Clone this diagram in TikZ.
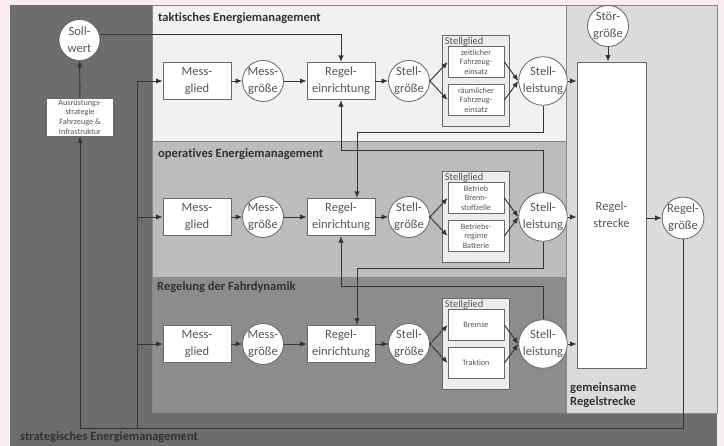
\documentclass[tikz,border=0pt]{standalone}
\usepackage{fontspec}
\setmainfont{Carlito}[Ligatures={NoCommon,NoRequired,NoContextual}]
\usetikzlibrary{calc,positioning,arrows.meta}
\definecolor{rand}{RGB}{250,237,239}
\definecolor{strat}{RGB}{109,109,109}
\definecolor{takt}{RGB}{241,241,241}
\definecolor{oper}{RGB}{188,188,188}
\definecolor{fdyn}{RGB}{140,140,140}
\definecolor{gemein}{RGB}{219,219,219}
\definecolor{glied}{RGB}{236,236,236}
\definecolor{linie}{RGB}{52,52,52}
\definecolor{rahmen}{RGB}{105,105,105}
\definecolor{schrift}{RGB}{85,85,85}
\definecolor{titel}{RGB}{50,50,50}
\newcommand{\grossschrift}{\fontsize{10.7}{14.2}\selectfont}
\newcommand{\kleinschrift}{\fontsize{7}{8.3}\selectfont}
\tikzset{
  blk/.style={
    draw=rahmen,
    line width=0.7pt,
    fill=white,
    minimum width=2.04cm,
    minimum height=1.12cm,
    inner sep=0pt,
    text=schrift,
    font=\grossschrift,
    align=center
  },
  rnd/.style={circle, draw=rahmen, line width=0.7pt, fill=white, minimum size=1.23cm,
    inner sep=0pt, text=schrift, font=\grossschrift, align=center},
  akt/.style={draw=rahmen, line width=0.7pt, fill=white, minimum width=1.68cm,
    minimum height=0.915cm, inner sep=0pt, text=schrift, font=\kleinschrift, align=center},
  frm/.style={draw=rahmen, line width=0.6pt, fill=glied, minimum width=2.01cm,
    minimum height=2.73cm, inner sep=0pt},
  lbl/.style={font=\fontsize{8.9}{10}\selectfont, text=schrift, inner sep=0pt, anchor=north west},
  ttl/.style={font=\bfseries\grossschrift, text=titel, inner sep=0pt, anchor=west},
  panel/.style={draw=rahmen!80, line width=0.5pt},
  pfeil/.style={draw=linie, line width=0.8pt, -{Latex[length=5.5pt,width=4.5pt]}},
  lin/.style={draw=linie, line width=0.8pt},
}
\newcommand{\RegelKreis}[4]{%
  \node[blk] (#1mg) at (197,#2) {Mess-\\glied};
  \node[rnd] (#1mgr) at (263,#2) {Mess-\\größe};
  \node[blk] (#1re) at (341,#2) {Regel-\\einrichtung};
  \node[rnd] (#1sg) at (409,#2) {Stell-\\größe};
  \node[frm] (#1st) at (476,#2) {};
  \node[lbl] (#1stl) at ($(#1st.north west)+(2.5,1.5)$) {Stellglied};
  \node[akt] (#1a) at ($(#1st.center)+(0,-19)$) {#3};
  \node[akt] (#1b) at ($(#1st.center)+(0,19)$) {#4};
  \node[rnd] (#1sl) at (543,#2) {Stell-\\leistung};
  \draw[pfeil] (#1mg.west -| rueck) -- (#1mg);
  \draw[pfeil] (#1mg) -- (#1mgr);
  \draw[pfeil] (#1mgr) -- (#1re);
  \draw[pfeil] (#1re) -- (#1sg);
  \foreach \z in {a,b} {
    \draw[pfeil] (#1sg.east) -- (#1\z.west);
    \draw[pfeil] (#1\z.east) -- (#1sl.west);
  }
  \draw[pfeil] (#1sl) -- (#1sl -| rs.west);
}

\begin{document}
\begin{tikzpicture}[x=0.03cm,y=-0.03cm]
  \useasboundingbox (0,0) rectangle (724,446);
  \fill[rand] (0,0) rectangle (724,446);
  \fill[strat] (10,5) rectangle (717,446);
  \draw[panel, fill=takt] (152,5) rectangle (566,141);
  \draw[panel, fill=oper] (152,141) rectangle (566,277);
  \draw[panel, fill=fdyn] (152,277) rectangle (566,412);
  \draw[panel, fill=gemein] (566,5) rectangle (717,413);

  \node[ttl] (tTit) at (158,18) {taktisches Energiemanagement};
  \node[ttl] (oTit) at (158,154) {operatives Energiemanagement};
  \node[ttl] (rTit) at (157,287) {Regelung der Fahrdynamik};
  \node[ttl] (sTit) at (20,437) {strategisches Energiemanagement};
  \node[ttl, align=left, font=\bfseries\fontsize{10.7}{12.5}\selectfont] (gTit) at (570,395) {gemeinsame\\Regelstrecke};

  \coordinate (rueck) at (137,428);
  \node[blk, minimum width=2.07cm, minimum height=9.18cm] (rs) at (611.5,215) {Regel-\\strecke};
  \node[rnd] (stoer) at (608,26) {Stör-\\größe};
  \node[rnd] (rg) at (683,218) {Regel-\\größe};
  \node[rnd] (sw) at (79.5,40) {Soll-\\wert};
  \node[akt, minimum width=2.01cm, minimum height=1.14cm] (aus) at (80,117)
    {Ausrüstungs-\\strategie\\Fahrzeuge \&\\Infrastruktur};

  \RegelKreis{t}{81}{zeitlicher\\Fahrzeug-\\einsatz}{räumlicher\\Fahrzeug-\\einsatz}
  \RegelKreis{o}{217}{Betrieb\\Brenn-\\stoffzelle}{Betriebs-\\regime\\Batterie}
  \RegelKreis{r}{344}{Bremse}{Traktion}

  \coordinate (tk) at (357,132);
  \coordinate (ot) at (341,150);
  \coordinate (ok) at (357,268);
  \coordinate (rt) at (341,286);
  \draw[pfeil] (tsl) |- (tk) -- (tk |- ore.north);
  \draw[pfeil] (osl) |- (ot) -- (tre);
  \draw[pfeil] (osl) |- (ok) -- (ok |- rre.north);
  \draw[pfeil] (rsl) |- (rt) -- (ore);

  \draw[pfeil] (sw.14) -- (sw.14 -| tre) -- (tre);
  \draw[pfeil] (aus) -- (sw);
  \draw[pfeil] (stoer) -- (stoer |- rs.north);
  \draw[pfeil] (rs.east |- rg) -- (rg);
  \draw[pfeil] (rg) -- (rg |- rueck) -| (aus);
  \draw[lin] (rueck) -- (tmg.west -| rueck);
\end{tikzpicture}
\end{document}
